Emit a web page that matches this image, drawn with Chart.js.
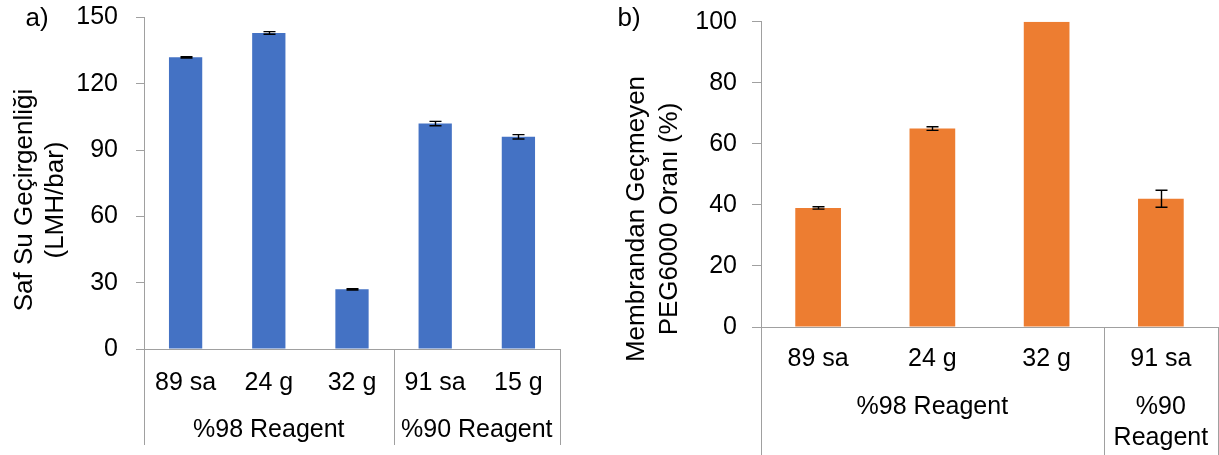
<!DOCTYPE html>
<html>
<head>
<meta charset="utf-8">
<script src="https://cdn.jsdelivr.net/npm/chart.js@4"></script>
<style>
  html, body { margin: 0; padding: 0; background: #fff; }
  #wrap { position: relative; width: 1219px; height: 455px; overflow: hidden; }
  .box { position: absolute; top: 0; height: 455px; }
  #boxA { left: 0; width: 600px; }
  #boxB { left: 600px; width: 619px; }
</style>
</head>
<body>
<div id="wrap">
  <div class="box" id="boxA"><canvas id="chartA"></canvas></div>
  <div class="box" id="boxB"><canvas id="chartB"></canvas></div>
</div>
<script>
// a) pure water permeability
const flowLabels = ['89 sa', '24 g', '32 g', '91 sa', '15 g'];
const flowValues = [132, 143, 27, 102, 96];
const flowErrors = [0.3, 0.6, 0.3, 1.0, 1.0];
const flowGroupNames = [['%98 Reagent'], ['%90 Reagent']];
const flowGroupSpans = [[0, 2], [3, 4]];
const flowTicks = [0, 30, 60, 90, 120, 150];

// b) PEG6000 rejection
const rejLabels = ['89 sa', '24 g', '32 g', '91 sa'];
const rejValues = [39, 65, 100, 42];
const rejErrors = [0.4, 0.6, 0, 2.8];
const rejGroupNames = [['%98 Reagent'], ['%90', 'Reagent']];
const rejGroupSpans = [[0, 2], [3, 3]];
const rejTicks = [0, 20, 40, 60, 80, 100];

const FONT = '"Liberation Sans", Arial, sans-serif';
const AXIS = '#a0a0a0';

// error bars, category group separators, group names, axis title and panel letter
const panelDecor = {
  id: 'panelDecor',
  afterDatasetsDraw(chart) {
    const ctx = chart.ctx;
    const y = chart.scales.y;
    const ds = chart.data.datasets[0];
    const meta = chart.getDatasetMeta(0);
    ctx.save();
    ctx.strokeStyle = '#000';
    ctx.lineWidth = 1.4;
    meta.data.forEach((bar, i) => {
      const e = ds.errors[i];
      if (!e) return;
      const v = ds.data[i];
      const yt = y.getPixelForValue(v + e);
      const yb = y.getPixelForValue(v - e);
      const cx = Math.round(bar.x) + 0.5;
      ctx.beginPath();
      ctx.moveTo(cx, yt); ctx.lineTo(cx, yb);
      ctx.moveTo(cx - 6, yt); ctx.lineTo(cx + 6, yt);
      ctx.moveTo(cx - 6, yb); ctx.lineTo(cx + 6, yb);
      ctx.stroke();
    });
    ctx.restore();
  },
  afterDraw(chart, args, opts) {
    const ctx = chart.ctx;
    const x = chart.scales.x;
    const area = chart.chartArea;
    const half = (x.getPixelForValue(1) - x.getPixelForValue(0)) / 2;

    ctx.save();
    // separators below the axis
    ctx.strokeStyle = AXIS;
    ctx.lineWidth = 1;
    const edges = new Set();
    opts.spans.forEach(([a, b]) => {
      edges.add(Math.round(x.getPixelForValue(a) - half));
      edges.add(Math.round(x.getPixelForValue(b) + half));
    });
    edges.forEach(px => {
      const xx = Math.min(px, chart.width - 1) + 0.5;
      ctx.beginPath();
      ctx.moveTo(xx, area.bottom);
      ctx.lineTo(xx, opts.lineEnd);
      ctx.stroke();
    });

    // group names
    ctx.fillStyle = '#000';
    ctx.font = '25px ' + FONT;
    ctx.textAlign = 'center';
    ctx.textBaseline = 'middle';
    opts.spans.forEach(([a, b], gi) => {
      const cx = (x.getPixelForValue(a) - half + x.getPixelForValue(b) + half) / 2;
      opts.names[gi].forEach((line, li) => {
        ctx.fillText(line, cx, opts.groupY + li * opts.groupLine);
      });
    });

    // rotated axis title
    ctx.font = '26px ' + FONT;
    ctx.textBaseline = 'alphabetic';
    ctx.translate(0, opts.titleY);
    ctx.rotate(-Math.PI / 2);
    opts.title.forEach((line, li) => {
      ctx.fillText(line, 0, opts.titleBase[li]);
    });
    ctx.setTransform(1, 0, 0, 1, 0, 0);

    // panel letter
    ctx.font = '26px ' + FONT;
    ctx.textAlign = 'center';
    ctx.textBaseline = 'middle';
    ctx.fillText(opts.letter, opts.letterX, opts.letterY);
    ctx.restore();
  }
};

function makeChart(id, cfg) {
  return new Chart(document.getElementById(id), {
    type: 'bar',
    data: {
      labels: cfg.labels,
      datasets: [{
        data: cfg.values,
        errors: cfg.errors,
        backgroundColor: cfg.color,
        borderWidth: 0,
        barPercentage: 0.4,
        categoryPercentage: 1.0
      }]
    },
    options: {
      responsive: true,
      maintainAspectRatio: false,
      animation: false,
      events: [],
      layout: { padding: cfg.padding },
      plugins: {
        legend: { display: false },
        tooltip: { enabled: false },
        panelDecor: cfg.decor
      },
      scales: {
        x: {
          grid: { display: false, drawTicks: false },
          border: { display: true, color: AXIS, width: 1 },
          ticks: {
            color: '#000',
            font: { family: FONT, size: 25 },
            padding: cfg.xPad,
            maxRotation: 0,
            autoSkip: false
          },
          afterFit: s => { s.height = cfg.xHeight; }
        },
        y: {
          min: cfg.ticks[0],
          max: cfg.ticks[cfg.ticks.length - 1],
          afterBuildTicks: s => { s.ticks = cfg.ticks.map(v => ({ value: v })); },
          grid: { drawOnChartArea: false, drawTicks: true, tickLength: cfg.tickLen, color: AXIS },
          border: { display: true, color: AXIS, width: 1 },
          ticks: {
            color: '#000',
            font: { family: FONT, size: 25 },
            padding: cfg.yPad
          },
          afterFit: s => {
            s.width = cfg.yWidth;
            s.paddingTop = 0;
            s.paddingBottom = 0;
          }
        }
      }
    },
    plugins: [panelDecor]
  });
}

makeChart('chartA', {
  labels: flowLabels, values: flowValues, errors: flowErrors, ticks: flowTicks,
  color: '#4472C4',
  padding: { top: 17.5, right: 40, left: 0, bottom: 0 },
  xHeight: 106, yWidth: 144, tickLen: 8, yPad: 18, xPad: 19,
  decor: {
    spans: flowGroupSpans, names: flowGroupNames,
    lineEnd: 445, groupY: 430, groupLine: 31,
    title: ['Saf Su Geçirgenliği', '(LMH/bar)'], titleY: 200, titleBase: [32, 63],
    letter: 'a)', letterX: 37, letterY: 19
  }
});

makeChart('chartB', {
  labels: rejLabels, values: rejValues, errors: rejErrors, ticks: rejTicks,
  color: '#ED7D31',
  padding: { top: 21.7, right: 1, left: 0, bottom: 0 },
  xHeight: 128, yWidth: 161, tickLen: 9, yPad: 15, xPad: 17,
  decor: {
    spans: rejGroupSpans, names: rejGroupNames,
    lineEnd: 455, groupY: 407, groupLine: 31,
    title: ['Membrandan Geçmeyen', 'PEG6000 Oranı (%)'], titleY: 219, titleBase: [44, 77],
    letter: 'b)', letterX: 29, letterY: 19
  }
});
</script>
</body>
</html>
